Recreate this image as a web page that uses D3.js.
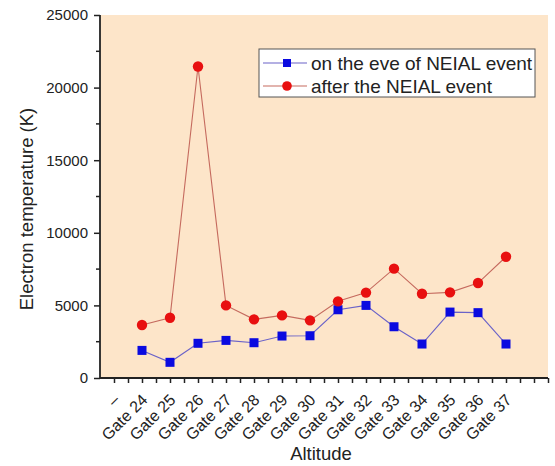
<!DOCTYPE html>
<html>
<head>
<meta charset="utf-8">
<script src="https://cdn.jsdelivr.net/npm/d3@7"></script>
<style>
  html, body { margin: 0; padding: 0; background: #fff; }
  svg { display: block; font-family: Arial, "Liberation Sans", sans-serif; }
</style>
</head>
<body>
<svg id="chart" width="555" height="466"></svg>
<script>
// Category labels along the altitude axis
const categories = ["\u2013", "Gate 24", "Gate 25", "Gate 26", "Gate 27", "Gate 28", "Gate 29",
  "Gate 30", "Gate 31", "Gate 32", "Gate 33", "Gate 34", "Gate 35", "Gate 36", "Gate 37"];
// Gates that carry measurements
const gates = ["Gate 24", "Gate 25", "Gate 26", "Gate 27", "Gate 28", "Gate 29", "Gate 30",
  "Gate 31", "Gate 32", "Gate 33", "Gate 34", "Gate 35", "Gate 36", "Gate 37"];
// Electron temperature (K) on the eve of the NEIAL event
const eveValues = [1900, 1080, 2390, 2590, 2430, 2890, 2910, 4700, 5000, 3530, 2340, 4540, 4500, 2340];
// Electron temperature (K) after the NEIAL event
const afterValues = [3650, 4150, 21450, 5000, 4040, 4310, 3970, 5280, 5880, 7530, 5800, 5900, 6540, 8350];
const yTicks = [0, 5000, 10000, 15000, 20000, 25000];
const seriesNames = ["on the eve of NEIAL event", "after the NEIAL event"];

const svg = d3.select("#chart");
const W = 555, H = 466;
const margin = { left: 100, right: 7, top: 15, bottom: 88 };
const x0 = margin.left, x1 = W - margin.right, y0 = H - margin.bottom, y1 = margin.top;

const x = d3.scaleLinear().domain([-0.5, 15.5]).range([x0, x1]);
const y = d3.scaleLinear().domain([0, 25000]).range([y0, y1]);

// Plot background
svg.append("rect").attr("x", x0).attr("y", y1).attr("width", x1 - x0).attr("height", y0 - y1)
  .attr("fill", "#fde5c9");

// Y axis: major labelled ticks plus minor ticks in between
const yMinor = d3.range(2500, 25000, 5000);
const yAxisG = svg.append("g").attr("transform", `translate(${x0},0)`);
yAxisG.call(d3.axisLeft(y).tickValues(yTicks).tickSize(6).tickPadding(6).tickFormat(d3.format("d")));
yAxisG.selectAll(".tick text").attr("font-size", 15).attr("fill", "#222");
yAxisG.selectAll(".tick line").attr("stroke", "#222").attr("stroke-width", 1.5);
yAxisG.select(".domain").attr("stroke", "#222").attr("stroke-width", 1.8).attr("d", `M0,${y0}V${y1}`);
yAxisG.selectAll(".minor").data(yMinor).enter().append("line")
  .attr("x1", 0).attr("x2", -4).attr("y1", d => y(d)).attr("y2", d => y(d))
  .attr("stroke", "#222").attr("stroke-width", 1.5);

// X axis: ticks every half category
const xTickVals = d3.range(0, 15.5 + 0.001, 0.5);
const xAxisG = svg.append("g").attr("transform", `translate(0,${y0})`);
xAxisG.call(d3.axisBottom(x).tickValues(xTickVals).tickSize(5)
  .tickFormat(d => (Number.isInteger(d) && d < categories.length) ? categories[d] : ""));
xAxisG.select(".domain").attr("stroke", "#222").attr("stroke-width", 1.8).attr("d", `M${x0},0H${x1}`);
xAxisG.selectAll(".tick line").attr("stroke", "#222").attr("stroke-width", 1.5);
xAxisG.selectAll(".tick text")
  .attr("font-size", 16).attr("fill", "#222")
  .attr("text-anchor", "end")
  .attr("y", 0).attr("dy", "0")
  .attr("transform", "translate(6,23) rotate(-45)");

// Axis titles
svg.append("text").attr("x", 321).attr("y", 460).attr("text-anchor", "middle")
  .attr("font-size", 18.5).attr("fill", "#222").text("Altitude");
svg.append("text").attr("transform", "translate(33,209) rotate(-90)")
  .attr("text-anchor", "middle").attr("font-size", 18.5).attr("fill", "#222")
  .text("Electron temperature (K)");

const xi = g => x(categories.indexOf(g));
const line = d3.line().x(d => xi(d.g)).y(d => y(d.v));
const eve = gates.map((g, i) => ({ g, v: eveValues[i] }));
const after = gates.map((g, i) => ({ g, v: afterValues[i] }));

const blueLine = "#6a62c8", blueMark = "#0a0ae0";
const redLine = "#c56a5e", redMark = "#e81010";

// Series: eve (blue squares)
svg.append("path").datum(eve).attr("d", line).attr("fill", "none")
  .attr("stroke", blueLine).attr("stroke-width", 1.1);
svg.selectAll(".sq").data(eve).enter().append("rect")
  .attr("x", d => xi(d.g) - 4.5).attr("y", d => y(d.v) - 4.5)
  .attr("width", 9).attr("height", 9).attr("fill", blueMark);

// Series: after (red circles)
svg.append("path").datum(after).attr("d", line).attr("fill", "none")
  .attr("stroke", redLine).attr("stroke-width", 1.1);
svg.selectAll(".ci").data(after).enter().append("circle")
  .attr("cx", d => xi(d.g)).attr("cy", d => y(d.v)).attr("r", 5.2).attr("fill", redMark);

// Legend
const lg = svg.append("g").attr("transform", "translate(259,49)");
lg.append("rect").attr("width", 276).attr("height", 48).attr("fill", "#fff")
  .attr("stroke", "#555").attr("stroke-width", 1);
const items = [
  { name: seriesNames[0], line: blueLine, mark: blueMark, shape: "sq" },
  { name: seriesNames[1], line: redLine, mark: redMark, shape: "ci" }
];
items.forEach((it, i) => {
  const cy = 14 + i * 23;
  lg.append("line").attr("x1", 4).attr("x2", 48).attr("y1", cy).attr("y2", cy)
    .attr("stroke", it.line).attr("stroke-width", 1.1);
  if (it.shape === "sq") {
    lg.append("rect").attr("x", 28 - 4).attr("y", cy - 4).attr("width", 8).attr("height", 8).attr("fill", it.mark);
  } else {
    lg.append("circle").attr("cx", 28).attr("cy", cy).attr("r", 4.8).attr("fill", it.mark);
  }
  lg.append("text").attr("x", 52).attr("y", cy + 7).attr("font-size", 19).attr("fill", "#222").text(it.name);
});
</script>
</body>
</html>
